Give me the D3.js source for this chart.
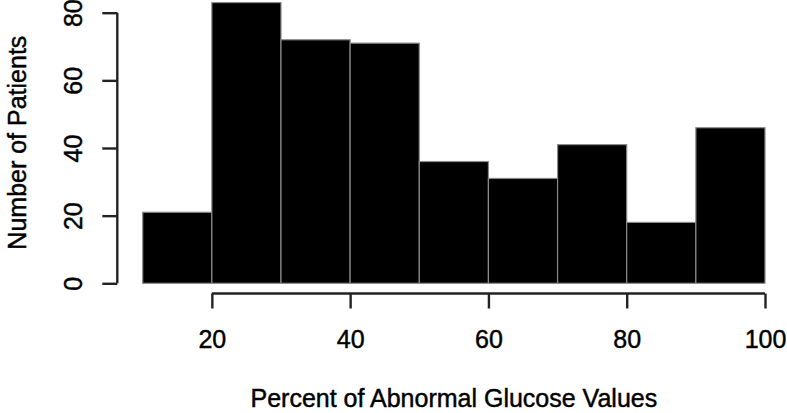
<!DOCTYPE html>
<html>
<head>
<meta charset="utf-8">
<script src="https://cdn.jsdelivr.net/npm/d3@7"></script>
<style>
html,body{margin:0;padding:0;background:#fff;}
svg{display:block;}
text{font-family:"Liberation Sans",Arial,Helvetica,sans-serif;fill:#000;stroke:#000;stroke-width:0.45px;}
</style>
</head>
<body>
<svg id="chart" width="787" height="413"></svg>
<script>
const binStarts = [10, 20, 30, 40, 50, 60, 70, 80, 90];
const binWidth = 10;
const counts = [21, 83, 72, 71, 36, 31, 41, 18, 46];
const xTicks = [20, 40, 60, 80, 100];
const yTicks = [0, 20, 40, 60, 80];
const xTitle = "Percent of Abnormal Glucose Values";
const yTitle = "Number of Patients";

const svg = d3.select("#chart");
const x = d3.scaleLinear().domain([10, 100]).range([142.7, 765]);
const y = d3.scaleLinear().domain([0, 80]).range([283.3, 12.7]);
const fs = 25;
const axisColor = "#222";

// bars
svg.append("g").selectAll("rect").data(binStarts).join("rect")
  .attr("x", (d) => x(d))
  .attr("width", (d) => x(d + binWidth) - x(d))
  .attr("y", (d, i) => y(counts[i]))
  .attr("height", (d, i) => y(0) - y(counts[i]))
  .attr("fill", "#000")
  .attr("stroke", "#8a8a8a")
  .attr("stroke-width", 1.2);

// x axis
const xAxisY = 293.5;
const xg = svg.append("g").attr("transform", `translate(0,${xAxisY})`);
const xAxis = d3.axisBottom(x).tickValues(xTicks).tickSize(15).tickSizeOuter(0).tickPadding(22).tickFormat(d3.format("d"));
xg.call(xAxis);
xg.select(".domain").attr("d", `M${x(20)},0H${x(100)}`).attr("stroke", axisColor).attr("stroke-width", 2.4);
xg.selectAll(".tick line").attr("stroke", axisColor).attr("stroke-width", 2.4);
xg.selectAll(".tick text").attr("font-size", fs).attr("font-family", "Liberation Sans, Arial, sans-serif").attr("fill", "#000").attr("dy", "0.71em");

// y axis
const yAxisX = 117.3;
const yg = svg.append("g").attr("transform", `translate(${yAxisX},0)`);
const yAxis = d3.axisLeft(y).tickValues(yTicks).tickSize(15).tickSizeOuter(0).tickFormat(d3.format("d"));
yg.call(yAxis);
yg.select(".domain").attr("d", `M0,${y(0)}V${y(80)}`).attr("stroke", axisColor).attr("stroke-width", 2.4);
yg.selectAll(".tick line").attr("stroke", axisColor).attr("stroke-width", 2.4);
yg.selectAll(".tick text")
  .attr("font-size", fs).attr("font-family", "Liberation Sans, Arial, sans-serif").attr("fill", "#000")
  .attr("x", null).attr("dy", null)
  .attr("text-anchor", "middle")
  .attr("transform", `translate(${82 - yAxisX},0) rotate(-90)`);

// titles
svg.append("text")
  .attr("x", (x(10) + x(100)) / 2).attr("y", 407)
  .attr("text-anchor", "middle").attr("font-size", fs)
  .text(xTitle);
svg.append("text")
  .attr("transform", `translate(26,${y(0) / 2 + 1}) rotate(-90)`)
  .attr("text-anchor", "middle").attr("font-size", fs)
  .text(yTitle);
</script>
</body>
</html>
